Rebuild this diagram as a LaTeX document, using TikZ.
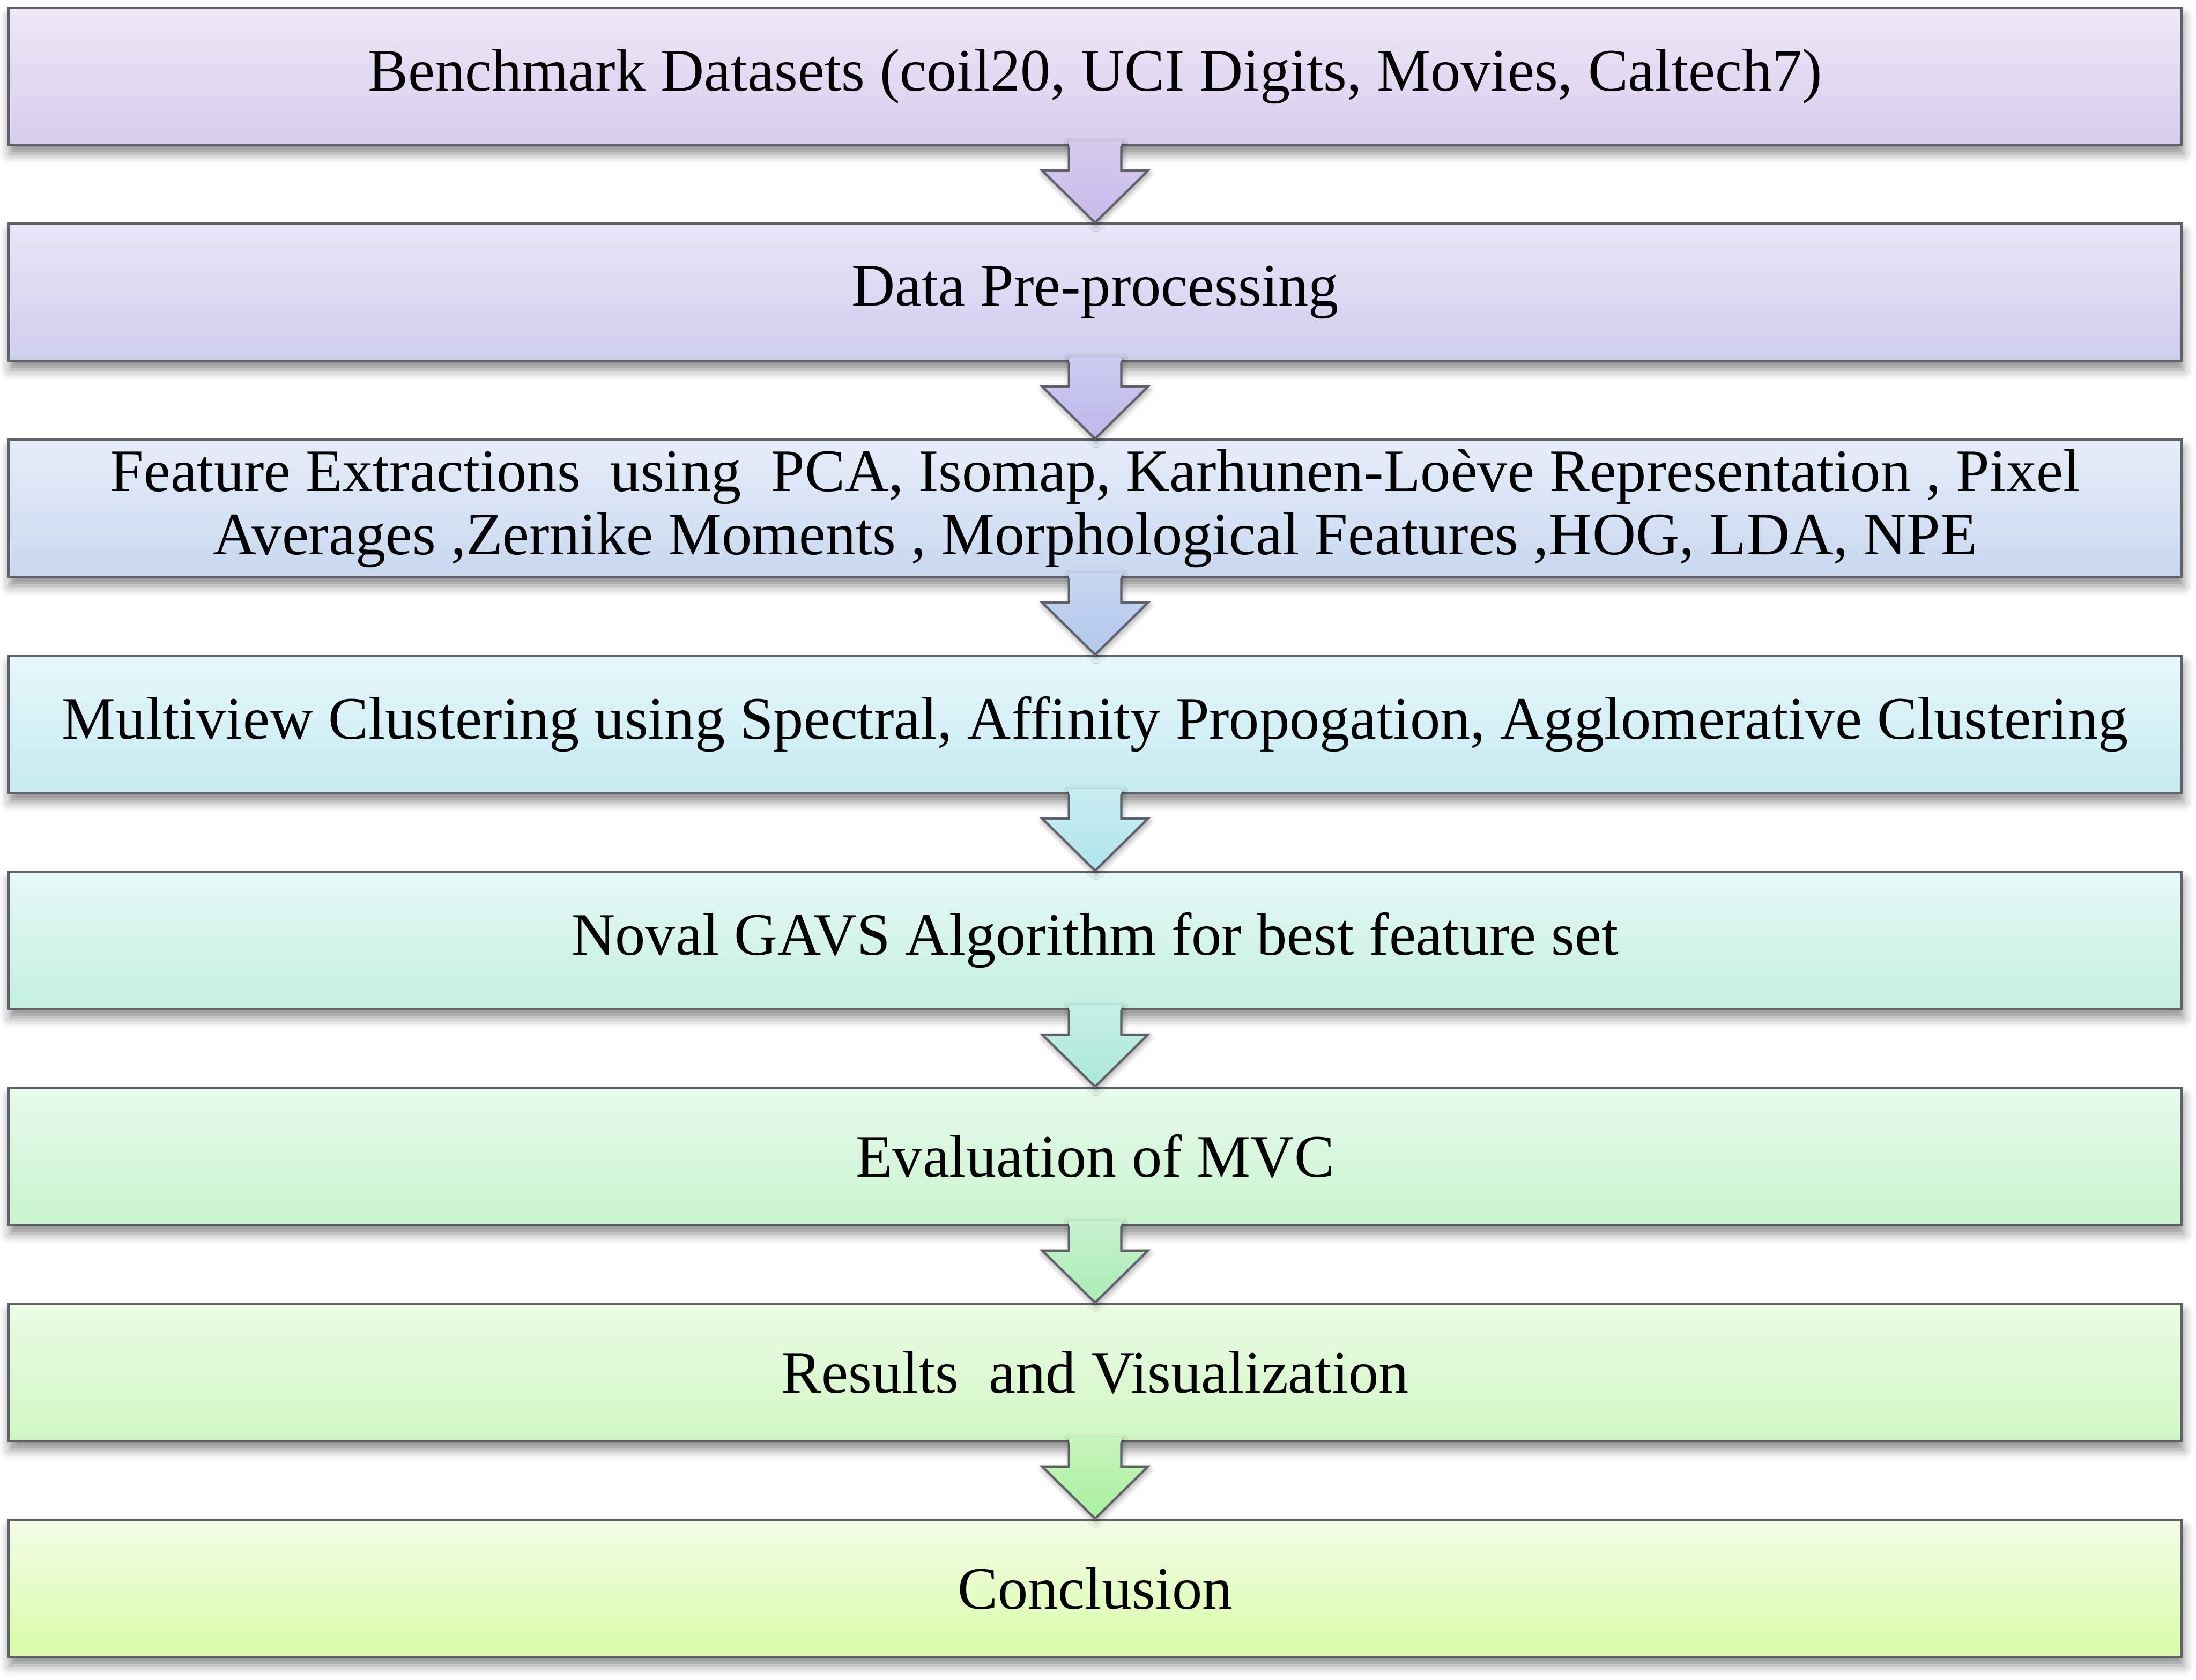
\documentclass[tikz,border=0pt]{standalone}
\usepackage{fontspec}
\setmainfont{Liberation Serif}
\usepackage{tikz}
\usetikzlibrary{
  positioning,
  calc,
  shadows.blur
}
\definecolor{EdgeGray}{RGB}{96,96,104}
\definecolor{DataTop}{RGB}{238,232,247}
\definecolor{DataBot}{RGB}{216,204,237}
\definecolor{PrepTop}{RGB}{231,231,248}
\definecolor{PrepBot}{RGB}{206,206,238}
\definecolor{FeatTop}{RGB}{231,237,249}
\definecolor{FeatBot}{RGB}{200,216,240}
\definecolor{ClusTop}{RGB}{232,248,252}
\definecolor{ClusBot}{RGB}{196,234,240}
\definecolor{GavsTop}{RGB}{230,249,245}
\definecolor{GavsBot}{RGB}{196,240,224}
\definecolor{EvalTop}{RGB}{232,250,236}
\definecolor{EvalBot}{RGB}{200,244,206}
\definecolor{ResTop}{RGB}{236,251,230}
\definecolor{ResBot}{RGB}{208,248,194}
\definecolor{ConcTop}{RGB}{244,252,232}
\definecolor{ConcBot}{RGB}{216,252,168}
\definecolor{ArrOneTop}{RGB}{214,202,238}
\definecolor{ArrOneBot}{RGB}{200,186,234}
\definecolor{ArrTwoTop}{RGB}{204,204,240}
\definecolor{ArrTwoBot}{RGB}{188,184,234}
\definecolor{ArrThreeTop}{RGB}{198,214,240}
\definecolor{ArrThreeBot}{RGB}{178,200,236}
\definecolor{ArrFourTop}{RGB}{200,238,242}
\definecolor{ArrFourBot}{RGB}{176,228,236}
\definecolor{ArrFiveTop}{RGB}{198,240,228}
\definecolor{ArrFiveBot}{RGB}{170,232,216}
\definecolor{ArrSixTop}{RGB}{198,242,206}
\definecolor{ArrSixBot}{RGB}{170,236,182}
\definecolor{ArrSevenTop}{RGB}{198,244,186}
\definecolor{ArrSevenBot}{RGB}{170,240,160}
\tikzset{
  stage/.style={draw=EdgeGray,line width=1.3pt,minimum width=44.37cm,minimum height=2.80cm,align=center,
    font=\fontsize{35}{36.9}\selectfont,
    blur shadow={shadow xshift=0.03cm,shadow yshift=-0.18cm,shadow blur radius=0.2cm,shadow opacity=45}},
  arrline/.style={draw=EdgeGray,line width=1.3pt,line join=miter},
  arrshadow/.style={blur shadow={shadow xshift=0.02cm,shadow yshift=-0.06cm,shadow blur radius=0.12cm,shadow opacity=40}}
}
% Block arrow from one stage down to the next.
\newcommand{\flowarrow}[4]{%
  \coordinate (sh) at ($(#1.south)!0.32!(#2.north)$);
  \shade[top color=#3,bottom color=#4,arrshadow]
    ([xshift=-5.35mm,yshift=1mm]#1.south) -- ([xshift=-5.35mm]sh) -- ([xshift=-10.8mm]sh) -- (#2.north)
    -- ([xshift=10.8mm]sh) -- ([xshift=5.35mm]sh) -- ([xshift=5.35mm,yshift=1mm]#1.south) -- cycle;
  \draw[arrline] ([xshift=-5.35mm]#1.south) -- ([xshift=-5.35mm]sh) -- ([xshift=-10.8mm]sh) -- (#2.north)
    -- ([xshift=10.8mm]sh) -- ([xshift=5.35mm]sh) -- ([xshift=5.35mm]#1.south);
}

\begin{document}
\begin{tikzpicture}[node distance=1.564cm]
\useasboundingbox (0,0) rectangle (44.83,-34.30);

\node[stage,top color=DataTop,bottom color=DataBot] (data) at (22.355,-1.56) {Benchmark Datasets (coil20, UCI Digits, Movies, Caltech7)};
\node[stage,top color=PrepTop,bottom color=PrepBot,below=of data] (prep) {Data Pre-processing};
\node[stage,top color=FeatTop,bottom color=FeatBot,below=of prep] (feat) {Feature Extractions \ using \ PCA, Isomap, Karhunen-Loève Representation , Pixel\\Averages ,Zernike Moments , Morphological Features ,HOG, LDA, NPE};
\node[stage,top color=ClusTop,bottom color=ClusBot,below=of feat] (clus) {Multiview Clustering using Spectral, Affinity Propogation, Agglomerative Clustering};
\node[stage,top color=GavsTop,bottom color=GavsBot,below=of clus] (gavs) {Noval GAVS Algorithm for best feature set};
\node[stage,top color=EvalTop,bottom color=EvalBot,below=of gavs] (eval) {Evaluation of MVC};
\node[stage,top color=ResTop,bottom color=ResBot,below=of eval] (res) {Results \ and Visualization};
\node[stage,top color=ConcTop,bottom color=ConcBot,below=of res] (conc) {Conclusion};

% Arrows between stages.
\flowarrow{data}{prep}{ArrOneTop}{ArrOneBot}
\flowarrow{prep}{feat}{ArrTwoTop}{ArrTwoBot}
\flowarrow{feat}{clus}{ArrThreeTop}{ArrThreeBot}
\flowarrow{clus}{gavs}{ArrFourTop}{ArrFourBot}
\flowarrow{gavs}{eval}{ArrFiveTop}{ArrFiveBot}
\flowarrow{eval}{res}{ArrSixTop}{ArrSixBot}
\flowarrow{res}{conc}{ArrSevenTop}{ArrSevenBot}
\end{tikzpicture}
\end{document}
